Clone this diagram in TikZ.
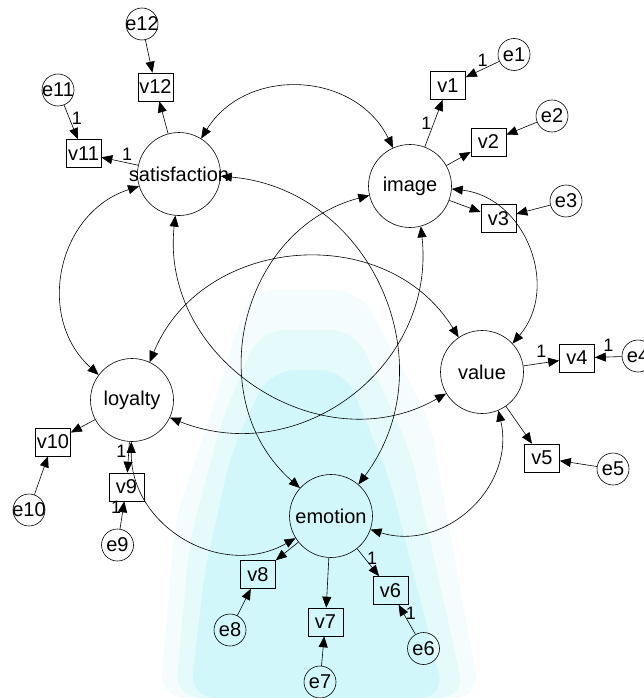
\documentclass[tikz,border=0pt]{standalone}
\usepackage{fontspec}
\setmainfont{Liberation Sans}
\usetikzlibrary{arrows.meta}
\definecolor{bgpale}{RGB}{244,252,253}
\definecolor{bgmid}{RGB}{228,250,251}
\definecolor{bgcyan}{RGB}{210,247,250}
\newcommand{\ztext}[1]{\makebox[0pt]{#1}}

\begin{document}
\begin{tikzpicture}[x=1pt, y=-1pt, line width=0.6pt, > = {Triangle[length=11pt,width=9pt]},
  latent/.style={circle, draw, minimum size=83pt, inner sep=0pt, font=\fontsize{20}{24}\selectfont},
  obs/.style={rectangle, draw, minimum width=35pt, minimum height=28pt, inner sep=0pt, font=\fontsize{20}{24}\selectfont},
  err/.style={circle, draw, minimum size=32pt, inner sep=0pt, font=\fontsize{20}{24}\selectfont},
  one/.style={font=\fontsize{18}{22}\selectfont, inner sep=2pt},
  cov/.style={<->, looseness=1.14}]
\useasboundingbox (0,0) rectangle (644,698);
\clip (0,0) rectangle (644,698);
% background blob
\fill[bgpale, rounded corners=25pt] (250,290) -- (360,290) -- (430,420) -- (480,698) -- (160,698) -- (175,520) -- (215,400) -- cycle;
\fill[bgmid, rounded corners=25pt] (260,330) -- (355,330) -- (410,450) -- (465,698) -- (175,698) -- (190,540) -- (222,420) -- cycle;
\fill[bgcyan, rounded corners=25pt] (270,370) -- (345,370) -- (390,480) -- (445,698) -- (190,698) -- (205,570) -- (232,450) -- cycle;

% latent variables
\node[latent] (sat) at (179,174) {\ztext{satisfaction}};
\node[latent] (img) at (410,186) {image};
\node[latent] (loy) at (132,400) {loyalty};
\node[latent] (val) at (482,372) {value};
\node[latent] (emo) at (331,516) {emotion};

% observed variables
\node[obs] (v1) at (448,85.5) {v1};
\node[obs] (v2) at (488.5,142) {v2};
\node[obs] (v3) at (498.5,218.5) {v3};
\node[obs] (v4) at (577,358) {v4};
\node[obs] (v5) at (542,458) {v5};
\node[obs] (v6) at (390.5,590.5) {v6};
\node[obs] (v7) at (325.5,622) {v7};
\node[obs] (v8) at (258,574.5) {v8};
\node[obs] (v9) at (126.5,487) {v9};
\node[obs] (v10) at (53,442) {v10};
\node[obs] (v11) at (83.5,153.5) {v11};
\node[obs] (v12) at (155.5,87) {v12};

% error terms
\node[err] (e1) at (514,54.5) {\ztext{e1}};
\node[err] (e2) at (552,116) {\ztext{e2}};
\node[err] (e3) at (566,201) {\ztext{e3}};
\node[err] (e4) at (638,356) {\ztext{e4}};
\node[err] (e5) at (613,469) {\ztext{e5}};
\node[err] (e6) at (423.5,648.5) {\ztext{e6}};
\node[err] (e7) at (320,682) {\ztext{e7}};
\node[err] (e8) at (230,630) {\ztext{e8}};
\node[err] (e9) at (117.5,545) {\ztext{e9}};
\node[err] (e10) at (29,510) {\ztext{e10}};
\node[err] (e11) at (58,90) {\ztext{e11}};
\node[err] (e12) at (142,24) {\ztext{e12}};

% errors to indicators
\foreach \i in {2,3,5,7,8,10,12}
  \draw[->] (e\i) -- (v\i);
\draw[->] (e1) -- (v1) node[one, midway, above]{1};
\draw[->] (e4) -- (v4) node[one, midway, above=3pt]{1};
\draw[->] (e6) -- (v6) node[one, pos=0.7, right]{1};
\draw[->] (e9) -- (v9) node[one, pos=0.8, left]{1};
\draw[->] (e11) -- (v11) node[one, pos=0.4, right]{1};

% loadings
\draw[->] (img) -- (v1) node[one, midway, left]{1};
\draw[->] (img) -- (v2);
\draw[->] (img) -- (v3);
\draw[->] (val) -- (v4) node[one, midway, above=3pt]{1};
\draw[->] (val) -- (v5);
\draw[->] (emo) -- (v6) node[one, pos=0.35, right]{1};
\draw[->] (emo) -- (v7);
\draw[->] (emo) -- (v8);
\draw[->] (loy) -- (v9) node[one, pos=0.3, left]{1};
\draw[->] (loy) -- (v10);
\draw[->] (sat) -- (v11) node[one, pos=0.3, above]{1};
\draw[->] (sat) -- (v12);

% covariances
\draw[cov] (sat.58) to[bend left=61] (img.114);
\draw[cov] (sat.197) to[bend right=60] (loy.143);
\draw[cov] (sat.-3) to[bend left=61] (emo.49);
\draw[cov] (sat.-95) to[bend right=63] (val.211);
\draw[cov] (img.193) to[bend right=62] (emo.138);
\draw[cov] (img.-75) to[bend left=59] (loy.-25);
\draw[cov] (img.-4) to[bend left=62] (val.43);
\draw[cov] (loy.65) to[bend left=63] (val.124);
\draw[cov] (val.-67) to[bend left=60] (emo.-19);
\draw[cov] (loy.-91) to[bend right=60] (emo.-148);
\end{tikzpicture}
\end{document}
